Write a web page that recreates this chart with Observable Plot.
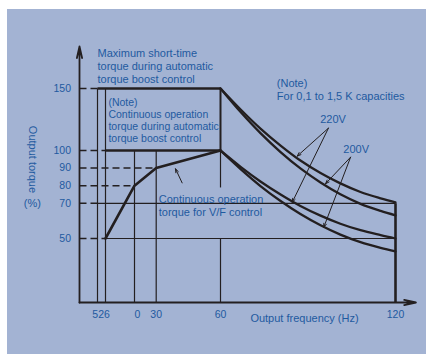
<!DOCTYPE html>
<html>
<head>
<meta charset="utf-8">
<script src="https://cdn.jsdelivr.net/npm/d3@7"></script>
<script src="https://cdn.jsdelivr.net/npm/@observablehq/plot@0.6"></script>
<style>
  html, body { margin: 0; padding: 0; background: #ffffff; }
  #wrap { padding: 9px 0 0 7px; }
  #wrap svg { display: block; }
</style>
</head>
<body>
<div id="wrap"></div>
<script>
// ---- tick values / labels (as printed) ----
const yTicks = [50, 70, 80, 90, 100, 150];
const xTickVals = [0.5, 6, 20, 30, 60, 120];
const xTickLabels = ["5", "26", "0", "30", "60", "120"];

// ---- continuous operation torque for V/F control ----
const freqVF = [6, 20, 30, 60];
const torqueVF = [50, 80, 90, 100];

// ---- decay curves above base frequency ----
const freqCurve = [60, 66.9, 73.7, 80.6, 87.4, 94.3, 101.1, 108, 114.9, 120];
// from 150 %, 220 V
const torqueMax220 = [150, 133.1, 117.7, 104.0, 94.3, 87.2, 81.3, 76.4, 72.8, 70.5];
// from 150 %, 200 V
const torqueMax200 = [150, 131.0, 114.0, 99.1, 89.8, 81.8, 75.1, 69.7, 65.7, 63.2];
// from 100 %, 220 V
const torqueCont220 = [100, 90.7, 82.4, 75.0, 68.5, 63.0, 58.4, 54.7, 51.9, 50.0];
// from 100 %, 200 V
const torqueCont200 = [100, 89.4, 79.8, 71.3, 63.9, 57.5, 52.2, 47.1, 42.7, 40.0];

// ---- pointer arrows (from label to curve) ----
const ptrFrom = [[42.1, 81.6], [97.0, 118.0], [97.0, 118.0], [104.6, 96.2], [104.6, 96.2]];
const ptrTo   = [[39.0, 89.6], [86.3, 96.8], [84.6, 70.6], [96.0, 81.1], [95.4, 56.4]];

// ---- layout (not data): the schematic, non-uniform axes ----
const xWarp = d3.scaleLinear([0, 0.5, 6, 20, 30, 60, 120], [0, 18, 26, 55, 76.7, 141, 316]);
const yWarp = d3.scaleLinear([0, 50, 100, 150], [0, 64, 152, 214]);
const xAnchors = ["end", "middle", "start", "middle", "middle", "middle"];
const xDx = [0.5, -1.5, 0, 0, 0, 0];
const ink = "#231f20";
const blue = "#1f5aa0";
const font = "'Liberation Sans', Arial, Helvetica, sans-serif";

const seg = (x1, y1, x2, y2) => ({x1, y1, x2, y2});
const dashed = [
  seg(0, 150, 0.5, 150), seg(0, 100, 6, 100), seg(0, 90, 30, 90),
  seg(0, 80, 20, 80), seg(0, 70, 0.5, 70), seg(0, 50, 6, 50)
];
const thin = [
  seg(0.5, 150, 0.5, 0), seg(6, 150, 6, 0), seg(20, 100, 20, 0),
  seg(30, 100, 30, 0), seg(60, 100, 60, 79), seg(60, 50, 60, 0),
  seg(0.5, 70, 120, 70), seg(6, 50, 120, 50)
];
const thick = [
  seg(0.5, 150, 60, 150), seg(6, 100, 60, 100), seg(120, 70, 120, 0)
];
const medium = [ seg(60, 150, 60, 100) ];

const pts = (xs, ys) => xs.map((x, i) => ({x, y: ys[i]}));
const curves = [
  pts(freqCurve, torqueMax220), pts(freqCurve, torqueMax200),
  pts(freqCurve, torqueCont220), pts(freqCurve, torqueCont200)
];
const ptrs = ptrFrom.map((f, i) => ({x1: f[0], y1: f[1], x2: ptrTo[i][0], y2: ptrTo[i][1]}));
const L = {x1: "x1", y1: "y1", x2: "x2", y2: "y2"};

const txt = (s, o) => Plot.text([s], Object.assign({text: d => d, fill: blue, fontSize: 11, fontFamily: font}, o));

const chart = Plot.plot({
  width: 419,
  height: 345,
  marginLeft: 72, marginBottom: 52, marginTop: 30, marginRight: 20,
  style: {background: "#a3b3d3", fontFamily: font, overflow: "visible"},
  x: {axis: null, transform: xWarp, domain: [0, 316], range: [72, 388]},
  y: {axis: null, transform: yWarp, domain: [0, 214], range: [293, 79]},
  marks: [
    Plot.link(dashed, {...L, stroke: ink, strokeWidth: 1.5, strokeDasharray: "7,4"}),
    Plot.link(thin, {...L, stroke: ink, strokeWidth: 1.2}),
    Plot.link(medium, {...L, stroke: ink, strokeWidth: 2}),
    Plot.link(thick, {...L, stroke: ink, strokeWidth: 2.6}),
    Plot.line(pts(freqVF, torqueVF), {x: "x", y: "y", stroke: ink, strokeWidth: 2.6}),
    ...curves.map(c => Plot.line(c, {x: "x", y: "y", stroke: ink, strokeWidth: 2.3, curve: "catmull-rom"})),
    // axes
    Plot.arrow([seg(0, 0, 0, 184), seg(0, 0, 127, 0)], {...L, stroke: ink, strokeWidth: 1.8, headAngle: 25, headLength: 10}),
    // pointers
    Plot.arrow(ptrs, {...L, stroke: ink, strokeWidth: 1, headAngle: 40, headLength: 6}),
    // tick labels
    Plot.text(yTicks, {x: 0, y: d => d, text: d => String(d), textAnchor: "end", dx: -8.5, fill: blue, fontSize: 10.5, fontFamily: font}),
    ...xTickVals.map((v, i) => Plot.text([v], {
      x: d => d, y: 0, text: () => xTickLabels[i], textAnchor: xAnchors[i], dx: xDx[i], lineAnchor: "top", dy: 8,
      fill: blue, fontSize: 10.5, fontFamily: font
    })),
    // annotations
    txt("Maximum short-time\ntorque during automatic\ntorque boost control", {x: 0.5, y: 182.5, textAnchor: "start", lineAnchor: "top", lineHeight: 1.17}),
    txt("(Note)\nContinuous operation\ntorque during automatic\ntorque boost control", {x: 7.4, y: 142.7, textAnchor: "start", lineAnchor: "top", lineHeight: 1.13, fontSize: 10.5}),
    txt("(Note)\nFor 0,1 to 1,5 K capacities", {x: 79.3, y: 158.9, textAnchor: "start", lineAnchor: "top", lineHeight: 1.18}),
    txt("220V", {x: 98.6, y: 128.2, textAnchor: "middle", lineAnchor: "top"}),
    txt("200V", {x: 106.5, y: 104.0, textAnchor: "middle", lineAnchor: "top"}),
    txt("Continuous operation\ntorque for V/F control", {x: 31.2, y: 75.7, textAnchor: "start", lineAnchor: "top", lineHeight: 1.2}),
    txt("Output frequency (Hz)", {x: 88.8, y: -8.8, textAnchor: "middle", lineAnchor: "top"}),
    txt("Output torque", {x: -1.31, y: 94.9, textAnchor: "middle", lineAnchor: "middle", rotate: 90}),
    txt("(%)", {x: -1.31, y: 69.9, textAnchor: "middle", lineAnchor: "middle"})
  ]
});
document.getElementById("wrap").appendChild(chart);
</script>
</body>
</html>
